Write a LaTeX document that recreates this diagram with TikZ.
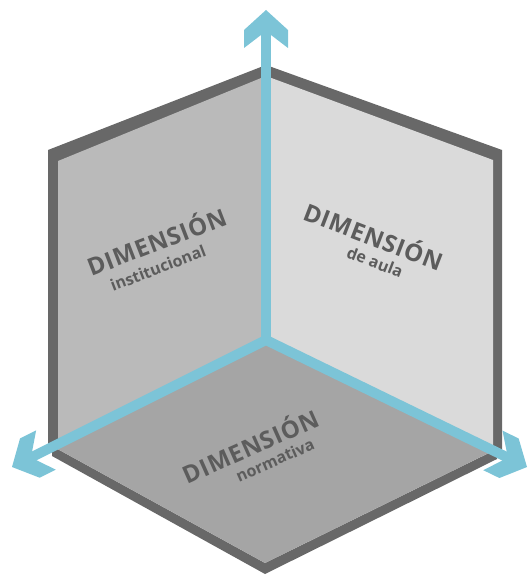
\documentclass[tikz,border=0pt]{standalone}
\usepackage{fontspec}
\setmainfont{Open Sans}
\usetikzlibrary{calc}

\definecolor{axisblue}{RGB}{124,196,215}
\definecolor{edgegray}{RGB}{104,104,104}
\definecolor{leftgray}{RGB}{186,186,186}
\definecolor{rightgray}{RGB}{218,218,218}
\definecolor{floorgray}{RGB}{165,165,165}
\definecolor{textgray}{RGB}{92,92,92}

\begin{document}
\begin{tikzpicture}[x=1pt,y=-1pt,line join=miter,
  axis/.style={draw=axisblue,line width=10pt},
  dimlabel/.style={text=textgray,inner sep=0pt,
    font=\bfseries\fontsize{24}{26}\selectfont\addfontfeature{LetterSpace=3}},
  sublabel/.style={text=textgray,inner sep=0pt,
    font=\bfseries\fontsize{16}{18}\selectfont},
  chevron/.pic={\fill[axisblue] (0,0) -- (-20,22) -- (-38,22) -- (-25,5) -- (-25,-5) -- (-38,-22) -- (-20,-22) -- cycle;}]

\useasboundingbox (0,0) rectangle (529,575);

% vertices of the corner
\coordinate (O)   at (266,340);
\coordinate (Top) at (266,65);
\coordinate (Tup) at (266,10);
\coordinate (Tl)  at (12,467);
\coordinate (Tr)  at (527,467);
\coordinate (FL)  at (52,446);
\coordinate (FB)  at (265,563);
\coordinate (FR)  at (497,449);

%---------------------------
% left wall
%---------------------------
\fill[edgegray] (48,150) -- (Top) -- (O) -- (48,448) -- cycle;
\fill[leftgray] (58,161) -- (266,76) -- (O) -- (58,443) -- cycle;

%---------------------------
% right wall
%---------------------------
\fill[edgegray] (Top) -- (502,150) -- (502,452) -- (O) -- cycle;
\fill[rightgray] (266,76) -- (493,160) -- (493,449) -- (O) -- cycle;

%---------------------------
% floor
%---------------------------
\fill[edgegray] (FL) -- (FB) -- (FR) -- ($(FR)+(0,10)$) -- ($(FB)+(0,11)$) -- ($(FL)+(0,10)$) -- cycle;
\fill[floorgray] (O) -- (FL) -- (FB) -- (FR) -- cycle;

%---------------------------
% axes
%---------------------------
\draw[axis,shorten <=22pt,shorten >=22pt] (Tl) -- (O) -- (Tr);
\draw[axis,shorten >=22pt] ($(O)+(0,4)$) -- (Tup);
\path (O) -- (Tup) pic[pos=1,sloped,allow upside down] {chevron};
\path (O) -- (Tl) pic[pos=1,sloped,allow upside down] {chevron};
\path (O) -- (Tr) pic[pos=1,sloped,allow upside down] {chevron};

%---------------------------
% labels
%---------------------------
\node[dimlabel,rotate=21] (instTitle) at (156,240) {DIMENSIÓN};
\node[sublabel,rotate=21] (instSub) at (158,268) {institucional};
\node[dimlabel,rotate=-21] (aulaTitle) at (374,235) {DIMENSIÓN};
\node[sublabel,rotate=-21] (aulaSub) at (375,262) {de aula};
\node[dimlabel,rotate=24] (normTitle) at (250,445) {DIMENSIÓN};
\node[sublabel,rotate=24] (normSub) at (275,460) {normativa};

\end{tikzpicture}
\end{document}
